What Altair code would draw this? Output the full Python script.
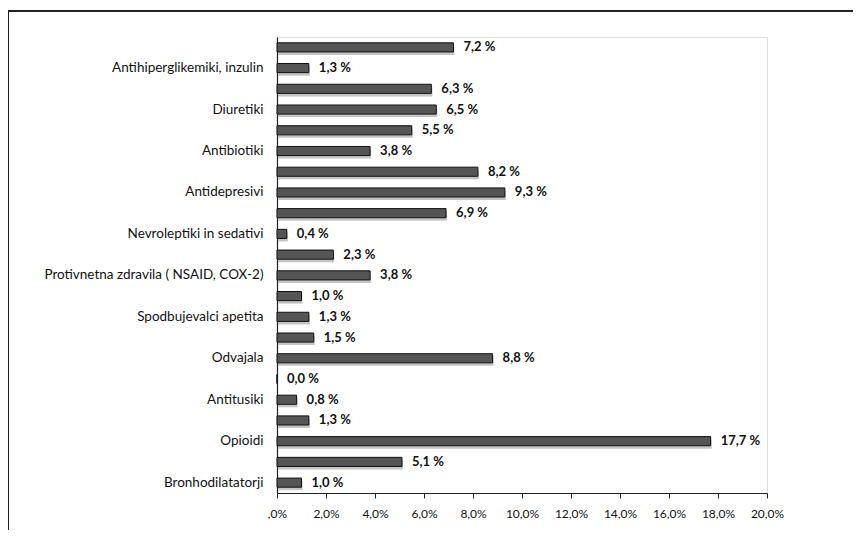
import json
import altair as alt
import pandas as pd

categories = [
    "Antihiperglikemiki, inzulin",
    "Diuretiki",
    "Antibiotiki",
    "Antidepresivi",
    "Nevroleptiki in sedativi",
    "Protivnetna zdravila ( NSAID, COX-2)",
    "Spodbujevalci apetita",
    "Odvajala",
    "Antitusiki",
    "Opioidi",
    "Bronhodilatatorji",
]
series_a = [7.2, 6.3, 5.5, 8.2, 6.9, 2.3, 1.0, 1.5, 0.0, 1.3, 5.1]
series_b = [1.3, 6.5, 3.8, 9.3, 0.4, 3.8, 1.3, 8.8, 0.8, 17.7, 1.0]
x_ticks = [0, 2, 4, 6, 8, 10, 12, 14, 16, 18, 20]

rows = []
ylabels = []
for i, cat in enumerate(categories):
    for s, vals in (("a", series_a), ("b", series_b)):
        v = vals[i]
        rows.append({
            "row": len(rows),
            "value": v,
            "lbl": f"{v:.1f}".replace(".", ",") + " %",
        })
        ylabels.append(cat if s == "b" else "")
df = pd.DataFrame(rows)

FONT = "Lato"
label_expr = json.dumps(ylabels) + "[datum.value]"

yenc = alt.Y(
    "row:O",
    scale=alt.Scale(paddingInner=0.56, paddingOuter=0.28),
    axis=alt.Axis(
        title=None, labelExpr=label_expr, ticks=False, domain=True,
        domainColor="#222", domainWidth=1.2, labelFont=FONT, labelFontSize=13.5,
        labelColor="#111", labelPadding=14, labelLimit=300,
    ),
)
xenc = alt.X(
    "value:Q",
    scale=alt.Scale(domain=[0, 20], nice=False),
    axis=alt.Axis(
        title=None, values=x_ticks, grid=False, tickSize=5, tickColor="#222",
        domainColor="#222", domainWidth=1.2, labelFont=FONT, labelFontSize=12,
        labelColor="#111", labelPadding=10, labelOverlap=False, labelFlush=False,
        labelExpr="datum.value == 0 ? ',0%' : replace(format(datum.value, '.1f'), '.', ',') + '%'",
    ),
)

base = alt.Chart(df)
shadow = base.mark_bar(color="#c4c4c4", yOffset=3, xOffset=1).encode(x=xenc, y=yenc)
bars = base.mark_bar(fill="#555555", stroke="#111", strokeWidth=1).encode(x=xenc, y=yenc)
texts = base.mark_text(align="left", dx=10, font=FONT, fontSize=13, fontWeight="bold", color="#111").encode(
    x=xenc, y=yenc, text="lbl:N"
)

frame_top = alt.Chart(df).mark_rule(color="#222", strokeWidth=2).encode(
    x=alt.value(-269), x2=alt.value(590), y=alt.value(-26)
)
frame_left = alt.Chart(df).mark_rule(color="#222", strokeWidth=2).encode(
    x=alt.value(-269), y=alt.value(-26), y2=alt.value(500)
)

chart = alt.layer(shadow, bars, texts, frame_top, frame_left).properties(
    width=490, height=456,
    autosize=alt.AutoSizeParams(type="none"),
    padding={"left": 269, "top": 29, "right": 86, "bottom": 37},
).configure_view(stroke=None).configure(background="white")

chart.save("out.html", embed_options={"renderer": "svg", "actions": False})
